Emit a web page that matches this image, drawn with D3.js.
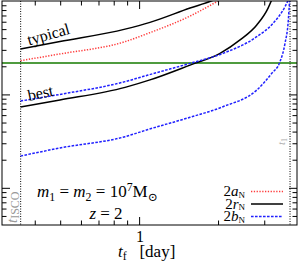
<!DOCTYPE html>
<html>
<head>
<meta charset="utf-8">
<script src="https://cdn.jsdelivr.net/npm/d3@7"></script>
<style>
  body { margin: 0; background: #fff; }
  svg { display: block; }
  text { font-family: "Liberation Serif", "DejaVu Serif", serif; white-space: pre; }
</style>
</head>
<body>
<div id="chart"></div>
<script>
// values (t_f in days)
const tTypicalR = [0.353, 0.499, 0.884, 1.10, 1.564, 1.88, 2.0];
const vTypicalR = [3.06, 3.68, 5.0, 5.9, 8.4, 10, 10.7];

const tTypicalA = [0.353, 0.499, 0.884, 1.081, 1.564, 2.0, 2.1];
const vTypicalA = [2.30, 2.71, 3.67, 4.5, 6.9, 10, 10.8];

const tBestR = [0.353, 0.499, 0.884, 1.10, 1.564, 2.035, 2.426, 2.81, 3.10, 3.204];
const vBestR = [0.733, 0.871, 1.19, 1.43, 2.06, 2.75, 3.83, 5.54, 8.35, 10.3];

const tUpperB = [0.353, 0.499, 0.884, 1.081, 1.564, 2.089, 2.81, 3.242, 3.601, 3.707];
const vUpperB = [0.85, 1.0, 1.37, 1.61, 2.15, 2.75, 4.15, 5.77, 8.7, 10.3];

const tLowerB = [0.353, 0.499, 0.884, 1.081, 1.564, 2.089, 2.81, 3.204, 3.446, 3.601, 3.707, 3.75];
const vLowerB = [0.219, 0.267, 0.353, 0.421, 0.569, 0.739, 1.115, 1.68, 2.24, 3.53, 6.26, 10.5];

const levelValue = 2.17;          // green horizontal line
const tISCO = 0.3534;            // left dotted line
const tOne = 3.763;              // right dotted line
const xDomain = [0.3, 4];
const yDomain = [0.04, 10];
const xTickLabels = [1];

// chart size
const W = 298, H = 264;
const margin = {top: 1, right: 1, bottom: 39, left: 2},
    width = W - margin.left - margin.right,
    height = H - margin.top - margin.bottom;

const svg = d3.select("#chart").append("svg")
    .attr("width", W).attr("height", H);

const g = svg.append("g")
    .attr("transform", `translate(${margin.left}, ${margin.top})`);

const x = d3.scaleLog().domain(xDomain).range([0, width]);
const y = d3.scaleLog().domain(yDomain).range([height, 0]);

g.append("clipPath").attr("id", "plot")
  .append("rect").attr("width", width).attr("height", height);

const plot = g.append("g").attr("clip-path", "url(#plot)");

// writes text with italic parts, sub- and superscripts
function rich(sel, parts, size) {
    let shift = 0;
    parts.forEach(p => {
        const target = p.sub ? (p.d || size * 0.22) : p.sup ? -size * 0.38 : 0;
        const sp = sel.append("tspan")
            .attr("dy", target - shift)
            .attr("font-size", (p.sub || p.sup) ? (p.s || size * 0.7) : size)
            .text(p.t);
        if (p.i) sp.attr("font-style", "italic");
        shift = target;
    });
    return sel;
}

// green level line
plot.append("line")
    .attr("x1", 0).attr("x2", width)
    .attr("y1", y(levelValue)).attr("y2", y(levelValue))
    .attr("stroke", "#4f9b3f").attr("stroke-width", 2);

// dotted vertical lines
[tISCO, tOne].forEach(t => {
    plot.append("line")
        .attr("x1", x(t)).attr("x2", x(t))
        .attr("y1", 0).attr("y2", height)
        .attr("stroke", "#000").attr("stroke-width", 1)
        .attr("stroke-dasharray", "1,1.5");
});

const curves = [
    {t: tTypicalA, v: vTypicalA, color: "#ff3b3b", dash: "1.3,1.5"},
    {t: tTypicalR, v: vTypicalR, color: "#000", dash: null},
    {t: tBestR, v: vBestR, color: "#000", dash: null},
    {t: tUpperB, v: vUpperB, color: "#2020ff", dash: "2.6,1.4"},
    {t: tLowerB, v: vLowerB, color: "#2020ff", dash: "2.6,1.4"}
];

const line = d3.line()
    .x(d => x(d[0]))
    .y(d => y(d[1]))
    .curve(d3.curveMonotoneX);

curves.forEach(c => {
    plot.append("path")
        .datum(d3.zip(c.t, c.v))
        .attr("d", line)
        .attr("fill", "none")
        .attr("stroke", c.color)
        .attr("stroke-width", 1.5)
        .attr("stroke-dasharray", c.dash);
});

/******* axes, ticks pointing inwards on all four sides *******/
function isMajor(d) {
    const l = Math.log10(d);
    return Math.abs(l - Math.round(l)) < 1e-6;
}
const xt = x.ticks().filter(d => d > xDomain[0] * 1.001 && d < xDomain[1] * 0.999);
const yt = y.ticks().filter(d => d > yDomain[0] * 1.001 && d < yDomain[1] * 0.999);
const minorLen = 4.5, majorLen = 8;

function drawAxis(axis, transform, ticks, attr, sign) {
    const a = g.append("g")
        .attr("transform", transform)
        .call(axis.tickValues(ticks).tickFormat("").tickSize(minorLen).tickSizeOuter(0));
    a.select(".domain").remove();
    a.selectAll(".tick line")
        .attr(attr, d => sign * (isMajor(d) ? majorLen : minorLen))
        .attr("stroke", "#000");
}
drawAxis(d3.axisTop(x), `translate(0, ${height})`, xt, "y2", -1);
drawAxis(d3.axisBottom(x), "translate(0, 0)", xt, "y2", 1);
drawAxis(d3.axisRight(y), "translate(0, 0)", yt, "x2", 1);
drawAxis(d3.axisLeft(y), `translate(${width}, 0)`, yt, "x2", -1);

g.append("rect")
    .attr("x", 0).attr("y", 0)
    .attr("width", width).attr("height", height)
    .attr("fill", "none").attr("stroke", "#000").attr("stroke-width", 1);

g.selectAll(".xlab")
    .data(xTickLabels)
    .enter().append("text")
    .attr("x", d => x(d) + 1).attr("y", height + 17)
    .attr("text-anchor", "middle").attr("font-size", 16)
    .text(d => d);

// axis title
rich(g.append("text").attr("x", 116).attr("y", 256),
    [{t: "t", i: true}, {t: "f", sub: true, d: 2.5}, {t: "   [day]"}], 17);

/******* labels inside the plot *******/
g.append("text")
    .attr("transform", "translate(27, 44.5) rotate(-16)")
    .attr("font-size", 16).text("typical");
g.append("text")
    .attr("transform", "translate(27, 100) rotate(-12)")
    .attr("font-size", 16).text("best");

rich(g.append("text").attr("x", 35).attr("y", 196),
    [{t: "m", i: true}, {t: "1", sub: true}, {t: " = "}, {t: "m", i: true}, {t: "2", sub: true},
     {t: " = 10"}, {t: "7", sup: true}, {t: "M"}, {t: "\u2299", sub: true}], 17);
rich(g.append("text").attr("x", 104).attr("y", 217.5).attr("text-anchor", "middle"),
    [{t: "z", i: true}, {t: " = 2"}], 17);

rich(g.append("text").attr("transform", "translate(15, 222) rotate(-90)").attr("fill", "#999"),
    [{t: "t", i: true}, {t: "ISCO", sub: true, s: 12, d: 2}], 15);
rich(g.append("text").attr("transform", "translate(283, 144) rotate(-90)").attr("fill", "#aaa"),
    [{t: "t", i: true}, {t: "1", sub: true, s: 8}], 11);

// legend
const legendNames = ["a", "r", "b"];
const legendStyles = [curves[0], curves[1], curves[3]];
const legendY = [195, 207.5, 220];
legendNames.forEach((n, i) => {
    rich(g.append("text").attr("x", 243).attr("y", legendY[i]).attr("text-anchor", "end"),
        [{t: "2"}, {t: n, i: true}, {t: "N", sub: true, s: 9, d: 1.5}], 15);
    g.append("line")
        .attr("x1", 249).attr("x2", 281)
        .attr("y1", legendY[i] - 4.5).attr("y2", legendY[i] - 4.5)
        .attr("stroke", legendStyles[i].color)
        .attr("stroke-width", 1.5)
        .attr("stroke-dasharray", legendStyles[i].dash);
});
</script>
</body>
</html>
